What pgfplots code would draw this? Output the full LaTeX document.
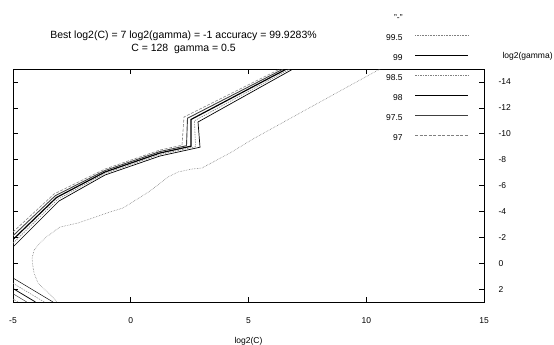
\documentclass[border=0pt]{standalone}
\usepackage{fontspec}
\setmainfont{Liberation Sans}
\usepackage{pgfplots}
\pgfplotsset{compat=1.18}
\begin{document}
\begin{tikzpicture}
\useasboundingbox (-13pt,-43pt) rectangle (541pt,302pt);
\begin{axis}[
  at={(0pt,0pt)}, anchor=south west,
  scale only axis, width=471pt, height=233pt,
  xmin=-5, xmax=15, ymin=-15, ymax=3, y dir=reverse,
  xtick={-5,0,5,10,15}, ytick={-14,-12,-10,-8,-6,-4,-2,0,2},
  yticklabel pos=right,
  /pgf/number format/assume math mode=true,
  tick label style={font=\fontsize{8.5}{10}\selectfont},
  xticklabel style={yshift=-12pt},
  yticklabel style={anchor=west, xshift=11pt},
  major tick length=5pt,
  axis line style={line width=0.7pt},
  tick style={black, line width=0.6pt},
  xlabel={log2(C)},
  xlabel style={font=\fontsize{8.5}{10}\selectfont, at={(axis description cs:0.5,0)}, anchor=center, yshift=-39pt},
  ylabel={log2(gamma)},
  ylabel style={font=\fontsize{8.5}{10}\selectfont, rotate=-90, at={(axis description cs:1,1)}, anchor=west, xshift=15pt, yshift=13pt},
  title={Best log2(C) = 7 log2(gamma) = -1 accuracy = 99.9283\%\\C = 128\ \ gamma = 0.5},
  title style={at={(axis description cs:0.362,1.041)}, anchor=south, align=center, inner sep=0pt, font=\fontsize{10.5}{13}\selectfont},
  legend style={draw=none, fill=none, at={(axis description cs:0.9745,1.245)}, anchor=north east, font=\fontsize{8.5}{10}\selectfont, row sep=12.5pt, column sep=12pt, nodes={inner sep=0pt, text height=6pt, text depth=1.5pt}},
  legend cell align=right,
  legend plot pos=right,
  legend image code/.code={\draw[#1] (0pt,2.5pt) -- (53pt,2.5pt);},
]
\addlegendimage{white, draw opacity=0, opacity=0}
\addlegendentry{"-"}
\addlegendimage{gray, densely dotted, line width=0.6pt}
\addlegendentry{99.5}
\addlegendimage{black, line width=0.7pt}
\addlegendentry{99}
\addlegendimage{gray, dash pattern=on 1.5pt off 1pt, line width=0.6pt}
\addlegendentry{98.5}
\addlegendimage{black, line width=1.2pt}
\addlegendentry{98}
\addlegendimage{black!75, line width=0.9pt}
\addlegendentry{97.5}
\addlegendimage{gray, dash pattern=on 3pt off 1.5pt, line width=0.6pt}
\addlegendentry{97}

% 99.5 contour
\addplot[forget plot, gray, densely dotted, line width=0.6pt] coordinates {
(10.584,-15) (7.187,-11.601) (5.191,-9.592) (4.214,-8.511) (3.025,-7.352) (2.601,-7.274) (2.006,-7.043) (1.582,-6.656) (1.157,-6.038) (0.690,-5.420) (-0.329,-4.261) (-0.881,-3.953) (-2.240,-3.103) (-3.004,-2.794) (-3.600,-2.000) (-3.854,-1.558) (-4.100,-1.017) (-4.190,-0.400) (-4.160,0.200) (-4.100,0.800) (-3.938,1.533) (-3.650,2.050) (-3.429,2.400) (-3.132,3.0)
};
% 99 contour
\addplot[forget plot, black, line width=0.7pt] coordinates {
(-5,-1.249) (-3.047,-4.802) (-1.093,-6.811) (1.242,-8.279) (2.941,-8.959) (2.856,-10.905) (6.890,-15)
};
\addplot[forget plot, black, line width=0.5pt] coordinates {(-5,1.146) (-3.301,3)};
% 98.5 contour
\addplot[forget plot, gray, dash pattern=on 1.5pt off 1pt, line width=0.6pt] coordinates {
(-5,-1.538) (-3.100,-4.937) (-1.093,-6.927) (1.242,-8.395) (2.749,-8.998) (2.707,-11.002) (6.752,-15)
};
\addplot[forget plot, gray, dash pattern=on 1.5pt off 1pt, line width=0.5pt] coordinates {(-5,1.551) (-3.673,3)};
% 98 contour
\addplot[forget plot, black, line width=1.2pt] coordinates {
(-5,-1.827) (-3.153,-5.073) (-1.093,-7.043) (1.242,-8.511) (2.558,-9.036) (2.558,-11.099) (6.614,-15)
};
\addplot[forget plot, black, line width=0.7pt] coordinates {(-5,1.957) (-4.045,3)};
% 97.5 contour
\addplot[forget plot, black!75, line width=0.9pt] coordinates {
(-5,-2.117) (-3.206,-5.208) (-1.093,-7.158) (1.242,-8.626) (2.367,-9.075) (2.410,-11.196) (6.476,-15)
};
\addplot[forget plot, black!75, line width=0.5pt] coordinates {(-5,2.363) (-4.416,3)};
% 97 contour
\addplot[forget plot, gray, dash pattern=on 3pt off 1.5pt, line width=0.6pt] coordinates {
(-5,-2.407) (-3.259,-5.343) (-1.093,-7.274) (1.242,-8.742) (2.176,-9.113) (2.261,-11.292) (6.338,-15)
};
\addplot[forget plot, gray, dash pattern=on 3pt off 1.5pt, line width=0.5pt] coordinates {(-5,2.769) (-4.788,3)};
\end{axis}
\end{tikzpicture}
\end{document}
